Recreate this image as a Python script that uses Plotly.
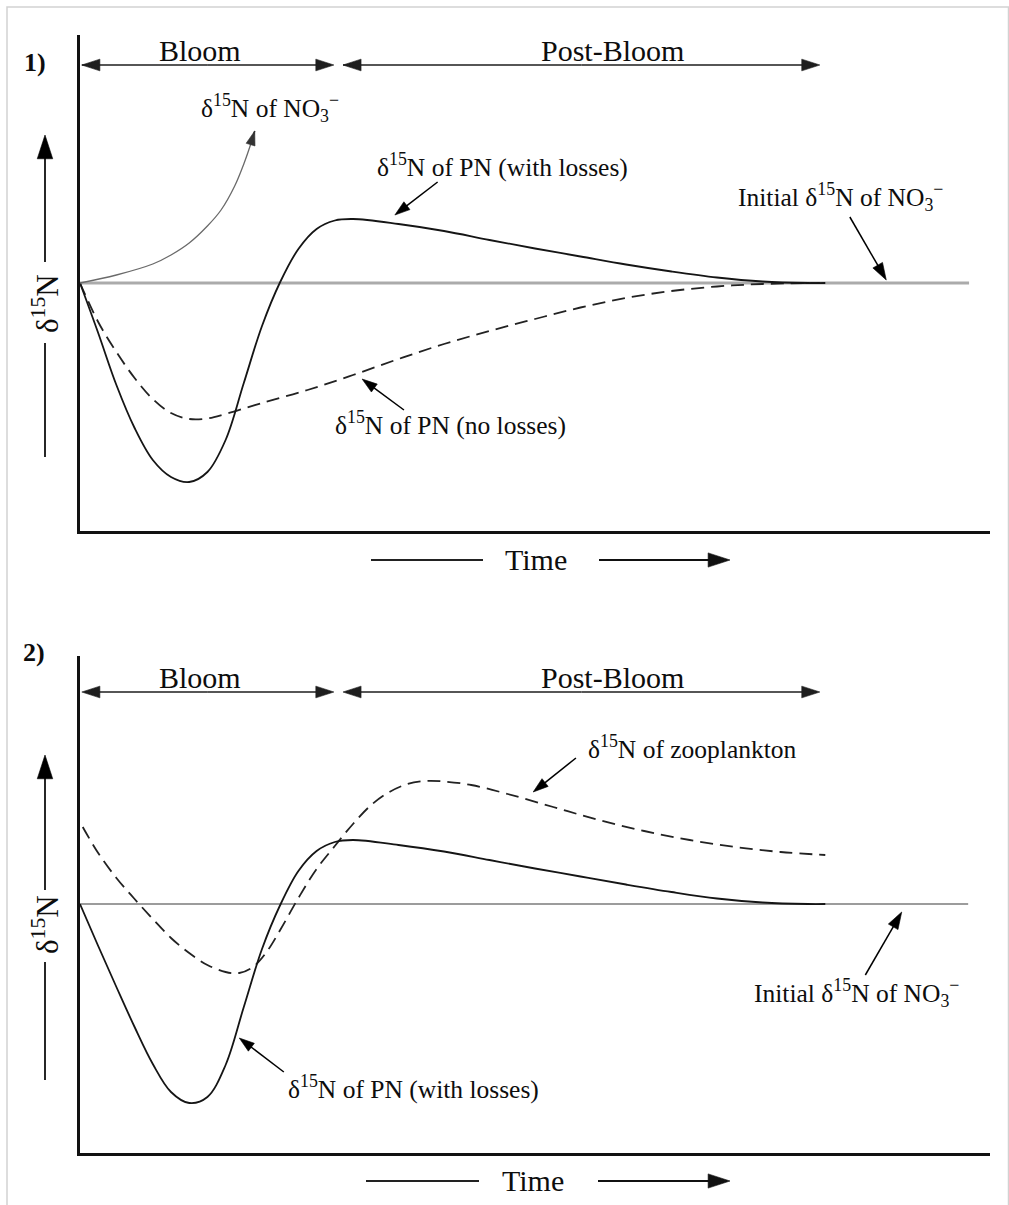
import plotly.graph_objects as go

W, H = 1009, 1205
FONT = "Liberation Serif"
INK = "#0d0d0d"

# ---------------- Panel 1: bloom, PN with / without losses ----------------
# time in arbitrary units (0-10), delta15N relative to initial nitrate (0)
t_no3 = [0.0, 0.4, 0.8, 1.0, 1.2, 1.4, 1.55, 1.7, 1.8, 1.88, 1.92]
d_no3 = [0.0, 0.16, 0.38, 0.56, 0.80, 1.14, 1.46, 1.94, 2.38, 2.80, 3.04]

t_pn1 = [0.0, 0.2, 0.4, 0.6, 0.8, 1.0, 1.2, 1.4, 1.6, 1.8, 2.0, 2.2, 2.4, 2.6,
         2.8, 3.0, 3.5, 4.0, 4.5, 5.0, 5.5, 6.0, 6.5, 7.0, 7.5, 8.0, 8.19]
d_pn1 = [0.0, -1.00, -2.04, -2.90, -3.54, -3.88, -3.98, -3.78, -3.14, -2.00, -0.86, 0.02,
         0.68, 1.08, 1.25, 1.28, 1.18, 1.04, 0.86, 0.69, 0.53, 0.37, 0.23, 0.11, 0.03,
         0.0, 0.0]

t_pn_noloss = [0.0, 0.2, 0.4, 0.6, 0.8, 1.0, 1.2, 1.4, 1.6, 2.0, 2.5, 3.0, 3.5,
               4.0, 4.5, 5.0, 5.5, 6.0, 6.5, 7.0, 7.5, 8.13]
d_pn_noloss = [0.0, -0.78, -1.38, -1.90, -2.32, -2.60, -2.72, -2.71, -2.62, -2.40,
               -2.14, -1.84, -1.52, -1.22, -0.96, -0.72, -0.49, -0.30, -0.16, -0.07,
               -0.02, 0.0]

t_init1 = [0.0, 9.77]
d_init1 = [0.0, 0.0]

# ---------------- Panel 2: PN and zooplankton ----------------
t_pn2 = [0.0, 0.2, 0.4, 0.6, 0.8, 1.0, 1.2, 1.4, 1.6, 1.8, 2.0, 2.2, 2.4, 2.6,
         2.8, 3.0, 3.5, 4.0, 4.5, 5.0, 5.5, 6.0, 6.5, 7.0, 7.5, 8.0, 8.19]
d_pn2 = [0.0, -0.84, -1.66, -2.46, -3.20, -3.76, -3.98, -3.86, -3.22, -2.06, -0.90, -0.02,
         0.66, 1.06, 1.24, 1.28, 1.18, 1.05, 0.88, 0.71, 0.55, 0.39, 0.24, 0.11, 0.03,
         0.0, 0.0]

t_zoo = [0.03, 0.2, 0.4, 0.6, 0.8, 1.0, 1.2, 1.4, 1.6, 1.75, 1.9, 2.05, 2.2, 2.4,
         2.6, 2.8, 3.0, 3.2, 3.4, 3.6, 3.8, 4.0, 4.3, 4.7, 5.2, 5.7, 6.2, 6.7, 7.2,
         7.7, 8.19]
d_zoo = [1.54, 1.02, 0.52, 0.10, -0.30, -0.68, -0.98, -1.22, -1.36, -1.38, -1.26, -0.96,
         -0.52, 0.12, 0.70, 1.16, 1.60, 1.98, 2.24, 2.40, 2.46, 2.45, 2.38, 2.20, 1.94,
         1.68, 1.46, 1.28, 1.14, 1.04, 0.98]

t_init2 = [0.0, 9.76]
d_init2 = [0.0, 0.0]

# phases along the time axis
phase_names = ["Bloom", "Post-Bloom"]
phase_start = [0.02, 2.89]
phase_end = [2.79, 8.13]
phase_label_t = [1.32, 5.85]

# ---------------- layout geometry (pixels) ----------------
X_LEFT, X_RIGHT = 80, 990
P1_TOP, P1_BOT = 35, 531
P2_TOP, P2_BOT = 656, 1153


def ydom(top, bot):
    return [1 - bot / H, 1 - top / H]


fig = go.Figure()


def curve(t, d, xa, ya, color, width, dash="solid", shape="spline"):
    fig.add_trace(go.Scatter(
        x=t, y=d, xaxis=xa, yaxis=ya, mode="lines",
        line=dict(color=color, width=width, dash=dash, shape=shape, smoothing=1.0),
        hoverinfo="skip", showlegend=False))


def arrow(x, y, xa, ya, size=18, width=1.5, color="#000000", head=True):
    n = len(x)
    fig.add_trace(go.Scatter(
        x=x, y=y, xaxis=xa, yaxis=ya,
        mode="lines+markers" if head else "lines",
        line=dict(color=color, width=width),
        marker=dict(symbol="arrow", size=[0] * (n - 1) + [size], angleref="previous",
                    color=color, opacity=1, line=dict(width=0.6, color=color)),
        cliponaxis=False, hoverinfo="skip", showlegend=False))


def label(text, x, y, xref, yref, size=25.5, angle=0, bold=False):
    fig.add_annotation(
        text=f"<b>{text}</b>" if bold else text, x=x, y=y, xref=xref, yref=yref,
        showarrow=False, textangle=angle, xanchor="center", yanchor="middle",
        font=dict(family=FONT, size=size, color=INK))


# ---------- panel 1 marks ----------
curve(t_init1, d_init1, "x", "y", "#ababab", 3, shape="linear")
curve(t_pn_noloss, d_pn_noloss, "x", "y", "#222222", 1.8, dash="13px,7px")
curve(t_pn1, d_pn1, "x", "y", "#151515", 1.8)
curve(t_no3, d_no3, "x", "y", "#6a6a6a", 1.3)
arrow(t_no3[-2:], d_no3[-2:], "x", "y", size=15, width=1.3, color="#333333")

# ---------- panel 2 marks ----------
curve(t_init2, d_init2, "x2", "y2", "#3a3a3a", 1.2, shape="linear")
curve(t_zoo, d_zoo, "x2", "y2", "#222222", 1.8, dash="13px,7px")
curve(t_pn2, d_pn2, "x2", "y2", "#151515", 1.8)

# ---------- phase spans (double-headed arrows) ----------
for xa, ya, yarr, ytxt in [("x", "y", 4.36, 4.66), ("x2", "y2", 4.24, 4.54)]:
    for name, s, e, lt in zip(phase_names, phase_start, phase_end, phase_label_t):
        mid = (s + e) / 2
        arrow([mid, s], [yarr, yarr], xa, ya, size=19, width=1.7, color="#1e1e1e")
        arrow([mid, e], [yarr, yarr], xa, ya, size=19, width=1.7, color="#1e1e1e")
        label(name, lt, ytxt, xa, ya, size=30)

# ---------- panel 1 annotations ----------
label("δ<sup>15</sup>N of NO<sub>3</sub><sup>−</sup>", 2.09, 3.50, "x", "y")
label("δ<sup>15</sup>N of PN (with losses)", 4.64, 2.36, "x", "y")
arrow([3.93, 3.46], [2.02, 1.36], "x", "y", size=16)
label("Initial δ<sup>15</sup>N of NO<sub>3</sub><sup>−</sup>", 8.36, 1.72, "x", "y")
arrow([8.46, 8.86], [1.32, 0.06], "x", "y", size=18)
label("δ<sup>15</sup>N of PN (no losses)", 4.07, -2.80, "x", "y")
arrow([3.56, 3.10], [-2.54, -1.92], "x", "y", size=16)

# ---------- panel 2 annotations ----------
label("δ<sup>15</sup>N of zooplankton", 6.73, 3.14, "x2", "y2")
arrow([5.45, 4.98], [2.92, 2.24], "x2", "y2", size=16)
label("δ<sup>15</sup>N of PN (with losses)", 3.66, -3.66, "x2", "y2")
arrow([2.24, 1.75], [-3.36, -2.68], "x2", "y2", size=16)
label("Initial δ<sup>15</sup>N of NO<sub>3</sub><sup>−</sup>", 8.53, -1.78, "x2", "y2")
arrow([8.63, 9.03], [-1.42, -0.16], "x2", "y2", size=18)

# ---------- page-level decorations (pixel overlay axes) ----------
for (lo_top, lo_bot, up_from, up_tip, txt_y) in [(343, 457, 262, 135, 304),
                                                  (962, 1080, 890, 755, 925)]:
    arrow([45, 45], [lo_bot, lo_top], "x3", "y3", head=False, width=1.7)
    arrow([45, 45], [up_from, up_tip], "x3", "y3", size=25, width=1.7)
    label("δ<sup>15</sup>N", 45, txt_y, "x3", "y3", size=31, angle=-90)

for ty, l0, l1, r0, r1, tx in [(560, 371, 483, 599, 730, 536),
                               (1181, 366, 479, 598, 730, 533)]:
    arrow([l0, l1], [ty, ty], "x3", "y3", head=False, width=1.9, color="#222222")
    arrow([r0, r1], [ty, ty], "x3", "y3", size=23, width=1.9, color="#111111")
    label("Time", tx, ty - 1, "x3", "y3", size=30)

label("1)", 35, 62, "x3", "y3", size=26, bold=True)
label("2)", 34, 652, "x3", "y3", size=26, bold=True)

axis_common = dict(showgrid=False, zeroline=False, showticklabels=False, ticks="",
                   fixedrange=True)
frame = dict(showline=True, linecolor="#111", linewidth=3)

fig.update_layout(
    width=W, height=H,
    margin=dict(l=0, r=0, t=0, b=0),
    paper_bgcolor="white", plot_bgcolor="rgba(0,0,0,0)",
    showlegend=False,
    xaxis=dict(domain=[X_LEFT / W, X_RIGHT / W], range=[0, 10], anchor="y",
               **axis_common, **frame),
    yaxis=dict(domain=ydom(P1_TOP, P1_BOT), range=[-4.96, 4.96], anchor="x",
               **axis_common, **frame),
    xaxis2=dict(domain=[X_LEFT / W, X_RIGHT / W], range=[0, 10], anchor="y2",
                **axis_common, **frame),
    yaxis2=dict(domain=ydom(P2_TOP, P2_BOT), range=[-4.98, 4.96], anchor="x2",
                **axis_common, **frame),
    xaxis3=dict(domain=[0, 1], range=[0, W], anchor="y3", visible=False, **axis_common),
    yaxis3=dict(domain=[0, 1], range=[H, 0], anchor="x3", visible=False, **axis_common),
    shapes=[dict(type="rect", xref="paper", yref="paper",
                 x0=7 / W, x1=1008.5 / W, y0=-0.02, y1=1 - 7 / H,
                 line=dict(color="#d2d2d2", width=1.5))],
)

fig.write_html("out.html")
